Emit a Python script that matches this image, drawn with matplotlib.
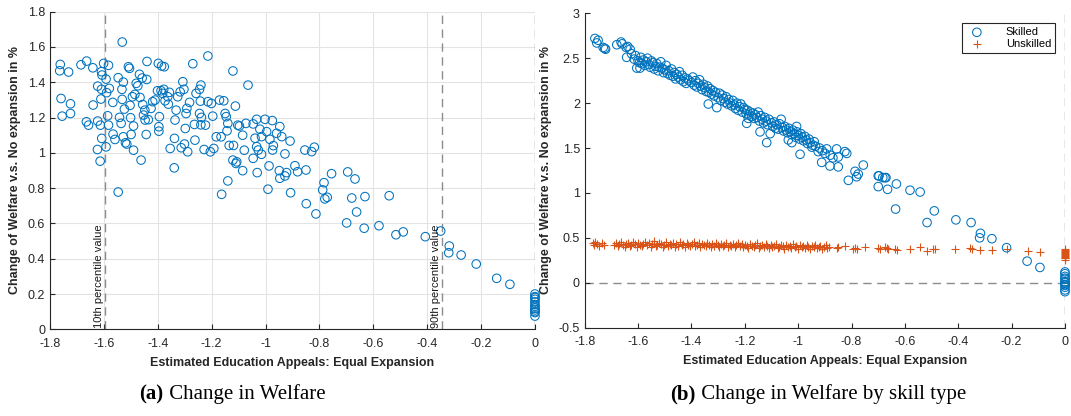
import matplotlib
matplotlib.use("Agg")
import matplotlib.pyplot as plt
import numpy as np
from matplotlib.ticker import FormatStrFormatter

plt.rcParams["font.family"] = ["Liberation Sans", "DejaVu Sans"]
plt.rcParams["axes.unicode_minus"] = False

# panel (a): welfare change vs estimated appeal (x, y)
welfare_points = [
    (-1.762, 1.501), (-1.764, 1.465), (-1.731, 1.458), (-1.759, 1.308), (-1.755, 1.208),
    (-1.724, 1.278), (-1.724, 1.223), (-1.685, 1.499), (-1.664, 1.520), (-1.641, 1.482),
    (-1.665, 1.176), (-1.657, 1.157), (-1.640, 1.271), (-1.623, 1.180), (-1.623, 1.378),
    (-1.613, 1.157), (-1.611, 1.305), (-1.609, 1.360), (-1.624, 1.019), (-1.614, 0.953),
    (-1.608, 1.082), (-1.601, 1.507), (-1.609, 1.460), (-1.607, 1.441), (-1.592, 1.418),
    (-1.583, 1.496), (-1.580, 1.365), (-1.590, 1.341), (-1.586, 1.210), (-1.583, 1.157),
    (-1.592, 1.034), (-1.567, 1.286), (-1.566, 1.106), (-1.559, 1.076), (-1.547, 1.426),
    (-1.532, 1.628), (-1.528, 1.401), (-1.533, 1.360), (-1.532, 1.303), (-1.542, 1.201),
    (-1.536, 1.167), (-1.524, 1.248), (-1.528, 1.091), (-1.520, 1.057), (-1.515, 1.050),
    (-1.509, 1.488), (-1.505, 1.479), (-1.503, 1.269), (-1.501, 1.199), (-1.494, 1.318),
    (-1.490, 1.152), (-1.499, 1.104), (-1.490, 1.015), (-1.485, 1.331), (-1.480, 1.394),
    (-1.474, 1.380), (-1.466, 1.314), (-1.468, 1.445), (-1.458, 1.424), (-1.462, 0.959),
    (-1.456, 1.274), (-1.448, 1.242), (-1.453, 1.214), (-1.447, 1.186), (-1.440, 1.518),
    (-1.441, 1.416), (-1.443, 1.104), (-1.435, 1.188), (-1.425, 1.252), (-1.419, 1.290),
    (-1.410, 1.299), (-1.401, 1.352), (-1.398, 1.507), (-1.386, 1.492), (-1.376, 1.488),
    (-1.394, 1.205), (-1.396, 1.148), (-1.396, 1.123), (-1.388, 1.352), (-1.382, 1.337),
    (-1.378, 1.360), (-1.373, 1.295), (-1.363, 1.318), (-1.357, 1.343), (-1.361, 1.276),
    (-1.354, 1.025), (-1.339, 0.915), (-1.338, 1.082), (-1.336, 1.186), (-1.332, 1.242),
    (-1.326, 1.318), (-1.317, 1.346), (-1.307, 1.403), (-1.303, 1.360), (-1.313, 1.029),
    (-1.301, 1.050), (-1.298, 1.138), (-1.295, 1.223), (-1.292, 1.252), (-1.282, 1.286),
    (-1.289, 1.006), (-1.270, 1.505), (-1.264, 1.161), (-1.262, 1.072), (-1.258, 1.337),
    (-1.245, 1.360), (-1.240, 1.384), (-1.242, 1.293), (-1.245, 1.223), (-1.238, 1.201),
    (-1.240, 1.159), (-1.228, 1.019), (-1.223, 1.157), (-1.214, 1.290), (-1.214, 1.549),
    (-1.205, 1.006), (-1.201, 1.280), (-1.196, 1.208), (-1.192, 1.025), (-1.183, 1.091),
    (-1.171, 1.299), (-1.165, 1.091), (-1.155, 1.295), (-1.150, 1.223), (-1.146, 1.205),
    (-1.140, 1.167), (-1.143, 1.125), (-1.135, 1.042), (-1.121, 1.464), (-1.112, 1.265),
    (-1.121, 0.959), (-1.119, 1.042), (-1.110, 0.940), (-1.107, 0.949), (-1.103, 1.157),
    (-1.097, 1.152), (-1.085, 1.100), (-1.079, 1.015), (-1.073, 1.167), (-1.065, 1.384),
    (-1.085, 0.899), (-1.547, 0.778), (-1.163, 0.765), (-1.140, 0.841),
    (-1.033, 1.190), (-1.002, 1.190), (-0.975, 1.183), (-1.046, 1.164), (-1.021, 1.134),
    (-0.996, 1.120), (-1.039, 1.083), (-1.015, 1.092), (-0.984, 1.077), (-0.959, 1.111),
    (-0.940, 1.092), (-0.947, 1.149), (-0.909, 1.067), (-0.971, 1.041), (-1.033, 1.035),
    (-1.027, 1.016), (-1.015, 0.992), (-0.974, 1.016), (-0.928, 0.994), (-0.854, 1.016),
    (-0.829, 1.007), (-0.819, 1.032), (-1.046, 0.969), (-0.987, 0.926), (-0.891, 0.927),
    (-0.881, 0.893), (-0.850, 0.903), (-1.031, 0.888), (-0.949, 0.899), (-0.922, 0.888),
    (-0.755, 0.882), (-0.695, 0.892), (-0.668, 0.852), (-0.947, 0.856), (-0.928, 0.869),
    (-0.783, 0.831), (-0.991, 0.794), (-0.907, 0.774), (-0.788, 0.790), (-0.780, 0.739),
    (-0.771, 0.748), (-0.680, 0.744), (-0.631, 0.752), (-0.541, 0.757), (-0.849, 0.712),
    (-0.813, 0.654), (-0.662, 0.665), (-0.699, 0.603), (-0.634, 0.573), (-0.579, 0.587),
    (-0.516, 0.536), (-0.489, 0.552), (-0.407, 0.525), (-0.350, 0.557), (-0.318, 0.472),
    (-0.320, 0.434), (-0.274, 0.421), (-0.218, 0.370), (-0.142, 0.289), (-0.093, 0.255),
]
welfare_at_zero = [0.20, 0.185, 0.17, 0.155, 0.13, 0.11, 0.095, 0.075, 0.18, 0.14, 0.12, 0.10]
p10_value = -1.595
p90_value = -0.344

# panel (b): skilled workers (x, y)
skilled_points = [
    (-1.762, 2.72), (-1.755, 2.67), (-1.750, 2.70), (-1.731, 2.62), (-1.722, 2.60), (-1.725, 2.61),
    (-1.680, 2.65), (-1.664, 2.68), (-1.660, 2.66), (-1.645, 2.62), (-1.639, 2.63), (-1.630, 2.60),
    (-1.643, 2.51), (-1.625, 2.55), (-1.615, 2.49), (-1.610, 2.53), (-1.605, 2.39), (-1.600, 2.47),
    (-1.595, 2.45), (-1.593, 2.39), (-1.590, 2.51), (-1.585, 2.44), (-1.580, 2.48), (-1.575, 2.42),
    (-1.570, 2.46), (-1.565, 2.50), (-1.560, 2.43), (-1.555, 2.40), (-1.550, 2.47), (-1.545, 2.45),
    (-1.540, 2.38), (-1.535, 2.41), (-1.530, 2.44), (-1.525, 2.36), (-1.520, 2.40), (-1.515, 2.46),
    (-1.510, 2.39), (-1.505, 2.34), (-1.500, 2.37), (-1.495, 2.42), (-1.490, 2.33), (-1.485, 2.36),
    (-1.480, 2.31), (-1.475, 2.38), (-1.470, 2.30), (-1.465, 2.34), (-1.460, 2.27), (-1.455, 2.32),
    (-1.450, 2.29), (-1.445, 2.35), (-1.440, 2.26), (-1.435, 2.31), (-1.430, 2.24), (-1.425, 2.28),
    (-1.420, 2.22), (-1.415, 2.27), (-1.410, 2.25), (-1.400, 2.23), (-1.395, 2.29), (-1.390, 2.20),
    (-1.385, 2.25), (-1.380, 2.18), (-1.375, 2.22), (-1.370, 2.26), (-1.365, 2.19), (-1.360, 2.15),
    (-1.355, 2.21), (-1.350, 2.17), (-1.345, 2.13), (-1.340, 2.19), (-1.337, 1.99), (-1.335, 2.12),
    (-1.330, 2.16), (-1.325, 2.10), (-1.320, 2.14), (-1.315, 2.08), (-1.310, 2.12), (-1.305, 1.95),
    (-1.300, 2.06), (-1.295, 2.11), (-1.290, 2.03), (-1.285, 2.09), (-1.280, 2.05), (-1.275, 2.01),
    (-1.270, 2.07), (-1.265, 1.99), (-1.260, 2.04), (-1.255, 2.00), (-1.250, 1.97), (-1.245, 2.03),
    (-1.240, 1.98), (-1.235, 1.94), (-1.230, 2.00), (-1.225, 1.92), (-1.220, 1.96), (-1.215, 1.99),
    (-1.210, 1.90), (-1.205, 1.95), (-1.200, 1.93), (-1.195, 1.88), (-1.193, 1.775), (-1.187, 1.83),
    (-1.190, 1.92), (-1.185, 1.87), (-1.180, 1.90), (-1.175, 1.85), (-1.170, 1.89), (-1.165, 1.83),
    (-1.160, 1.87), (-1.155, 1.84), (-1.150, 1.90), (-1.145, 1.80), (-1.143, 1.68), (-1.140, 1.86),
    (-1.135, 1.82), (-1.130, 1.78), (-1.125, 1.84), (-1.118, 1.56), (-1.120, 1.80), (-1.115, 1.76),
    (-1.110, 1.82), (-1.105, 1.66), (-1.100, 1.78), (-1.095, 1.74), (-1.090, 1.79), (-1.085, 1.72),
    (-1.080, 1.76), (-1.075, 1.71), (-1.070, 1.77), (-1.064, 1.82), (-1.060, 1.73), (-1.055, 1.69),
    (-1.050, 1.74), (-1.045, 1.70), (-1.040, 1.67), (-1.037, 1.59), (-1.035, 1.72), (-1.030, 1.68),
    (-1.024, 1.56), (-1.025, 1.65), (-1.020, 1.70), (-1.015, 1.66), (-1.010, 1.62), (-1.006, 1.74),
    (-1.005, 1.68), (-1.000, 1.64), (-0.993, 1.43), (-0.995, 1.60), (-0.990, 1.66), (-0.985, 1.62),
    (-0.980, 1.58), (-0.975, 1.63), (-0.970, 1.59), (-0.965, 1.55), (-0.960, 1.60), (-0.955, 1.56),
    (-0.949, 1.51), (-0.945, 1.53), (-0.940, 1.57), (-0.935, 1.52), (-0.925, 1.46), (-0.920, 1.50),
    (-0.912, 1.34), (-0.910, 1.47), (-0.900, 1.44), (-0.893, 1.49), (-0.881, 1.30), (-0.880, 1.42),
    (-0.870, 1.39), (-0.856, 1.49), (-0.850, 1.40), (-0.850, 1.29), (-0.825, 1.46), (-0.818, 1.44),
    (-0.812, 1.14), (-0.787, 1.24), (-0.781, 1.18), (-0.775, 1.21), (-0.756, 1.31), (-0.700, 1.19),
    (-0.697, 1.19), (-0.683, 1.17), (-0.675, 1.17), (-0.671, 1.17), (-0.700, 1.07), (-0.665, 1.04),
    (-0.635, 0.82), (-0.632, 1.10), (-0.581, 1.03), (-0.543, 1.01), (-0.517, 0.67), (-0.490, 0.80),
    (-0.409, 0.70), (-0.352, 0.67), (-0.317, 0.55), (-0.320, 0.50), (-0.274, 0.49), (-0.219, 0.39),
    (-0.142, 0.24), (-0.094, 0.17),
]
skilled_at_zero = [0.10, 0.07, 0.04, 0.01, -0.02, -0.05, -0.08, -0.10, 0.0, 0.05, 0.12, -0.03]

# panel (b): unskilled workers
unskilled_x = [
    -1.770, -1.765, -1.760, -1.755, -1.745, -1.735, -1.728,
    -1.690, -1.683, -1.676, -1.670, -1.664, -1.657, -1.650, -1.644, -1.638, -1.631,
    -1.625, -1.618, -1.612, -1.605, -1.599, -1.592, -1.586, -1.580, -1.573, -1.566,
    -1.560, -1.553, -1.547, -1.540, -1.534, -1.528, -1.521, -1.515, -1.508, -1.502,
    -1.495, -1.489, -1.482, -1.476, -1.470, -1.463, -1.457, -1.450, -1.444, -1.437,
    -1.431, -1.425, -1.418, -1.412, -1.405, -1.399, -1.392, -1.386, -1.380, -1.373,
    -1.367, -1.360, -1.354, -1.347, -1.341, -1.335, -1.328, -1.322, -1.315, -1.309,
    -1.302, -1.296, -1.290, -1.283, -1.277, -1.270, -1.264, -1.257, -1.251, -1.245,
    -1.238, -1.232, -1.225, -1.219, -1.212, -1.206, -1.200, -1.193, -1.187, -1.180,
    -1.174, -1.167, -1.161, -1.155, -1.148, -1.142, -1.135, -1.129, -1.122, -1.116,
    -1.110, -1.103, -1.097, -1.090, -1.084, -1.077, -1.071, -1.065, -1.058, -1.052,
    -1.045, -1.039, -1.032, -1.026, -1.020, -1.013, -1.007, -1.000, -0.994, -0.987,
    -0.981, -0.975, -0.968, -0.962, -0.955, -0.949, -0.942, -0.936, -0.930, -0.923,
    -0.917, -0.910, -0.904, -0.897, -0.891, -0.884,
    -0.856, -0.850, -0.825, -0.793, -0.787, -0.781, -0.750, -0.700, -0.694, -0.675,
    -0.669, -0.662, -0.637, -0.631, -0.581, -0.543, -0.518, -0.494, -0.487, -0.412,
    -0.356, -0.350, -0.318, -0.272, -0.218, -0.140, -0.094,
]
unskilled_y = [
    0.44, 0.42, 0.45, 0.43, 0.41, 0.44, 0.42,
    0.42, 0.44, 0.41, 0.43, 0.45, 0.42, 0.40, 0.43, 0.44, 0.41,
    0.42, 0.45, 0.43, 0.40, 0.44, 0.42, 0.41, 0.43, 0.45, 0.42,
    0.44, 0.40, 0.43, 0.46, 0.41, 0.42, 0.44, 0.43, 0.40, 0.42,
    0.45, 0.41, 0.43, 0.42, 0.44, 0.40, 0.43, 0.41, 0.45, 0.42,
    0.43, 0.40, 0.44, 0.42, 0.41, 0.43, 0.45, 0.41, 0.42, 0.44,
    0.40, 0.43, 0.42, 0.41, 0.44, 0.42, 0.40, 0.43, 0.41, 0.44,
    0.42, 0.40, 0.43, 0.41, 0.42, 0.44, 0.40, 0.42, 0.41, 0.43,
    0.40, 0.42, 0.44, 0.41, 0.43, 0.40, 0.42, 0.41, 0.39, 0.43,
    0.41, 0.40, 0.42, 0.44, 0.39, 0.41, 0.42, 0.40, 0.43, 0.41,
    0.39, 0.42, 0.40, 0.41, 0.43, 0.39, 0.40, 0.42, 0.41, 0.38,
    0.42, 0.40, 0.41, 0.39, 0.43, 0.40, 0.41, 0.38, 0.42, 0.40,
    0.41, 0.39, 0.42, 0.40, 0.38, 0.41, 0.40, 0.42, 0.39, 0.40,
    0.41, 0.38, 0.40, 0.42, 0.39, 0.40,
    0.39, 0.40, 0.41, 0.38, 0.39, 0.38, 0.40, 0.39, 0.38, 0.40,
    0.39, 0.38, 0.37, 0.36, 0.38, 0.40, 0.35, 0.37, 0.37, 0.37,
    0.39, 0.38, 0.36, 0.36, 0.37, 0.35, 0.345,
]
unskilled_at_zero = [0.37, 0.35, 0.34, 0.32, 0.31, 0.30, 0.28, 0.27, 0.25, 0.33, 0.29, 0.36]

x_ticks = [-1.8, -1.6, -1.4, -1.2, -1.0, -0.8, -0.6, -0.4, -0.2, 0.0]
a_y_ticks = [0.0, 0.2, 0.4, 0.6, 0.8, 1.0, 1.2, 1.4, 1.6, 1.8]
b_y_ticks = [-0.5, 0.0, 0.5, 1.0, 1.5, 2.0, 2.5, 3.0]

BLUE = "#0072BD"
ORANGE = "#D95319"
AXIS = "#262626"
DASH = "#8c8c8c"
YLABEL = "Change of Welfare v.s. No expansion in %"
XLABEL = "Estimated Education Appeals: Equal Expansion"


def style_axes(ax):
    for side in ("top", "right"):
        ax.spines[side].set_visible(False)
    for side in ("left", "bottom"):
        ax.spines[side].set_color(AXIS)
        ax.spines[side].set_linewidth(0.8)
    ax.tick_params(direction="in", length=3.5, width=0.8, colors=AXIS, labelsize=9)
    ax.tick_params(axis="x", pad=6)
    ax.xaxis.set_major_formatter(FormatStrFormatter("%g"))
    ax.yaxis.set_major_formatter(FormatStrFormatter("%g"))
    ax.set_xlabel(XLABEL, fontsize=9, fontweight="bold", color=AXIS, labelpad=5)
    ax.set_ylabel(YLABEL, fontsize=9, fontweight="bold", color=AXIS, labelpad=5)


fig = plt.figure(figsize=(10.71, 4.16), dpi=100)
ax_a = fig.add_axes([0.0467, 0.2084, 0.4528, 0.7635])
ax_b = fig.add_axes([0.546, 0.2125, 0.4484, 0.7555])

# ---- panel (a)
wx, wy = np.array(welfare_points).T
ax_a.grid(True, color="#e3e3e3", linewidth=0.8)
ax_a.set_axisbelow(True)
ax_a.scatter(wx, wy, s=38, facecolors="none", edgecolors=BLUE, linewidths=0.75, zorder=3, clip_on=False)
ax_a.scatter(np.zeros(len(welfare_at_zero)), welfare_at_zero, s=38, facecolors="none",
             edgecolors=BLUE, linewidths=0.75, zorder=3, clip_on=False)
for xv in (p10_value, p90_value, 0.0):
    ax_a.axvline(xv, color=DASH, linewidth=1.0, linestyle=(0, (6, 4)), zorder=2)
ax_a.text(p10_value - 0.004, 0.005, "10th percentile value", rotation=90, ha="right", va="bottom",
          fontsize=8, color="#1a1a1a")
ax_a.text(p90_value - 0.004, 0.005, "90th percentile value", rotation=90, ha="right", va="bottom",
          fontsize=8, color="#1a1a1a")
ax_a.set_xlim(-1.8, 0)
ax_a.set_ylim(0, 1.8)
ax_a.set_xticks(x_ticks)
ax_a.set_yticks(a_y_ticks)
style_axes(ax_a)

# ---- panel (b)
sx, sy = np.array(skilled_points).T
ax_b.axhline(0, color=DASH, linewidth=1.0, linestyle=(0, (6, 4)), zorder=1)
ax_b.axvline(0, color=DASH, linewidth=1.0, linestyle=(0, (6, 4)), zorder=1)
ax_b.scatter(np.concatenate([sx, np.zeros(len(skilled_at_zero))]),
             np.concatenate([sy, skilled_at_zero]),
             s=38, facecolors="none", edgecolors=BLUE, linewidths=0.75, zorder=3,
             clip_on=False, label="Skilled")
ax_b.scatter(unskilled_x + [0.0] * len(unskilled_at_zero), unskilled_y + unskilled_at_zero,
             s=32, marker="+", color=ORANGE, linewidths=0.8, zorder=3, clip_on=False,
             label="Unskilled")
ax_b.set_xlim(-1.8, 0)
ax_b.set_ylim(-0.5, 3)
ax_b.set_xticks(x_ticks)
ax_b.set_yticks(b_y_ticks)
style_axes(ax_b)
leg = ax_b.legend(loc="upper right", fontsize=8, frameon=True, fancybox=False, framealpha=1,
                  borderaxespad=0.9, handletextpad=1.6, borderpad=0.35, labelspacing=0.15,
                  handlelength=2.0)
leg.get_frame().set_edgecolor(AXIS)
leg.get_frame().set_linewidth(0.8)

# ---- captions: bold tag followed by plain title
renderer = fig.canvas.get_renderer()
for center, tag, title in ((0.217, "(a)", " Change in Welfare"),
                           (0.764, "(b)", " Change in Welfare by skill type")):
    t1 = fig.text(0, 0.04, tag, fontsize=15, fontweight="bold", family="Liberation Serif")
    t2 = fig.text(0, 0.04, title, fontsize=15, family="Liberation Serif")
    w1 = t1.get_window_extent(renderer).width
    w2 = t2.get_window_extent(renderer).width
    start = center * fig.bbox.width - (w1 + w2) / 2
    t1.set_x(start / fig.bbox.width)
    t2.set_x((start + w1) / fig.bbox.width)

fig.savefig("out.png", dpi=100)
